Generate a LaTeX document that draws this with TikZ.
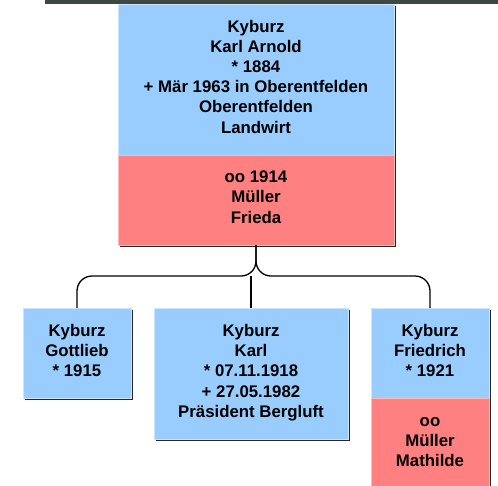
\documentclass[tikz,border=0pt]{standalone}
\usepackage{fontspec}
\setmainfont{Liberation Sans}
\usetikzlibrary{shadows}
\definecolor{personblue}{HTML}{99CCFF}
\definecolor{personedge}{HTML}{CDE5FC}
\definecolor{spousered}{HTML}{FF8080}
\definecolor{spouseedge}{HTML}{FFB9B9}
\definecolor{headerband}{HTML}{3E4843}
\begin{document}
\begin{tikzpicture}[x=1pt,y=-1pt,
  box/.style={font=\fontsize{16.8}{20.2}\selectfont\bfseries, align=center,
    inner sep=0pt, outer sep=0pt, anchor=north west, line width=0.8pt,
    text depth=5pt,
    drop shadow={shadow xshift=1.6pt, shadow yshift=-1.6pt, fill=black!85, opacity=1}},
  person/.style={box, fill=personblue, draw=personedge},
  spouse/.style={box, fill=spousered, draw=spouseedge},
  link/.style={draw=black, line width=1.3pt}]
\useasboundingbox (0,0) rectangle (498,485);
\clip (0,0) rectangle (498,485);

% dark strip along the top edge
\fill[headerband] (45,0) rectangle (498,3.5);

% parents
\node[person, minimum width=276pt, minimum height=151pt, text depth=6pt] (main) at (118,4)
  {Kyburz\\Karl Arnold\\* 1884\\+ Mär 1963 in Oberentfelden\\Oberentfelden\\Landwirt};
\node[spouse, minimum width=276pt, minimum height=90pt, text depth=6pt] (mspouse) at (118,155)
  {oo 1914\\Müller\\Frieda};

% children
\node[person, minimum width=108pt, minimum height=90pt] (gottlieb) at (23,308)
  {Kyburz\\Gottlieb\\* 1915};
\node[person, minimum width=194pt, minimum height=131pt, text depth=5.5pt] (karl) at (154,308)
  {Kyburz\\Karl\\* 07.11.1918\\+ 27.05.1982\\Präsident Bergluft};
\node[person, minimum width=118pt, minimum height=90pt] (friedrich) at (371,308)
  {Kyburz\\Friedrich\\* 1921};
\node[spouse, minimum width=118pt, minimum height=100pt, text depth=12pt] (fspouse) at (371,398)
  {oo\\Müller\\Mathilde};

% family connectors
\coordinate (bar) at (256,276);
\draw[link, rounded corners=15pt] (mspouse.south) -- (mspouse.south |- bar) -| (gottlieb.north);
\draw[link, rounded corners=15pt] (mspouse.south) -- (mspouse.south |- bar) -| (friedrich.north);
\draw[link] (karl.north |- bar) -- (karl.north);
\end{tikzpicture}
\end{document}
